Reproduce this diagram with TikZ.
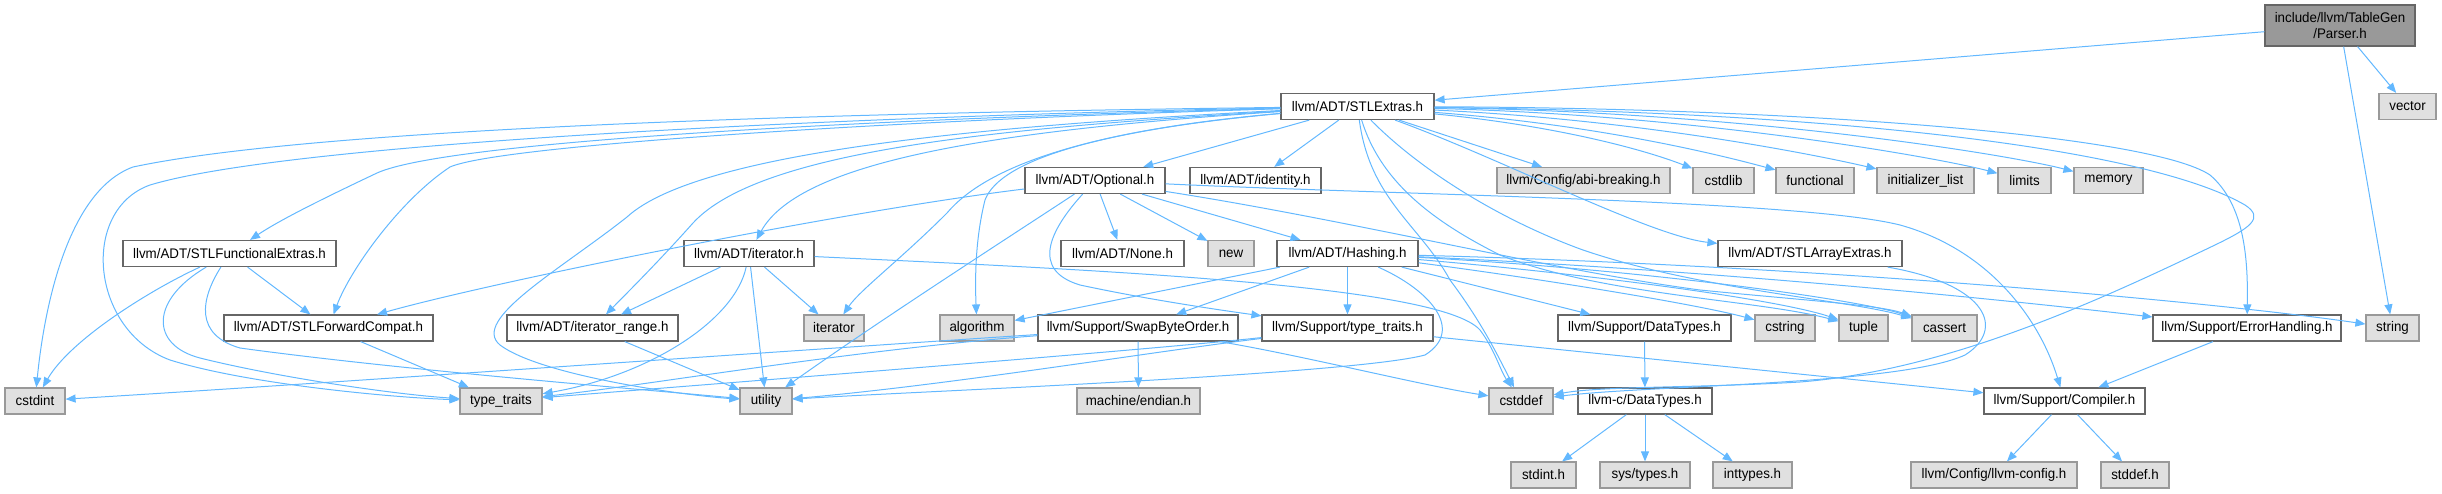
\documentclass[tikz,border=0pt]{standalone}
\usepackage{fontspec}
\setmainfont{Liberation Sans}[FakeStretch=0.96]
\usetikzlibrary{arrows.meta}
\definecolor{edgec}{HTML}{63B8FF}
\definecolor{cbd}{HTML}{666666}
\definecolor{cgbd}{HTML}{999999}
\definecolor{cgf}{HTML}{E0E0E0}
\newcommand\nfont{\fontsize{13.9}{16}\selectfont}
\tikzset{
 nd/.style={draw=cbd, fill=white, line width=1.2pt, minimum height=26pt, inner sep=0pt, font=\nfont, text=black},
 gr/.style={nd, draw=cgbd, fill=cgf},
 e/.style={draw=edgec, line width=1pt, -{Triangle[length=10pt,width=8pt]}},
}
\begin{document}
\begin{tikzpicture}[x=1pt,y=-1pt]
\useasboundingbox (0,0) rectangle (2442,493);
% row 0
\node[nd, fill=cgbd, draw=cbd, minimum width=150pt, minimum height=41pt, align=center] (parser) at (2340,25.5) {include/llvm/TableGen\\/Parser.h};
% row 1
\node[nd, minimum width=153pt] (stlextras) at (1357.5,106.5) {llvm/ADT/STLExtras.h};
\node[gr, minimum width=57pt] (vector) at (2407.5,106.5) {vector};
% row 2
\node[nd, minimum width=140pt] (optional) at (1095,180.5) {llvm/ADT/Optional.h};
\node[nd, minimum width=131pt] (identity) at (1255.5,180.5) {llvm/ADT/identity.h};
\node[gr, minimum width=173pt] (abi) at (1583.5,180.5) {llvm/Config/abi-breaking.h};
\node[gr, minimum width=61pt] (cstdlib) at (1723.5,180.5) {cstdlib};
\node[gr, minimum width=78pt] (functional) at (1815,180.5) {functional};
\node[gr, minimum width=97pt] (initlist) at (1925.5,180.5) {initializer\_list};
\node[gr, minimum width=53pt] (limits) at (2024.5,180.5) {limits};
\node[gr, minimum width=69pt] (memory) at (2108.5,180.5) {memory};
% row 3
\node[nd, minimum width=213pt] (stlfunc) at (229.5,253.5) {llvm/ADT/STLFunctionalExtras.h};
\node[nd, minimum width=130pt] (iterh) at (749,253.5) {llvm/ADT/iterator.h};
\node[nd, minimum width=123pt] (none) at (1122.5,253.5) {llvm/ADT/None.h};
\node[gr, minimum width=46pt] (newh) at (1231,253.5) {new};
\node[nd, minimum width=141pt] (hashing) at (1347.5,253.5) {llvm/ADT/Hashing.h};
\node[nd, minimum width=184pt] (stlarray) at (1810,253.5) {llvm/ADT/STLArrayExtras.h};
% row 4
\node[nd, minimum width=209pt] (stlfwd) at (328.5,328) {llvm/ADT/STLForwardCompat.h};
\node[nd, minimum width=171pt] (itrange) at (592.5,328) {llvm/ADT/iterator\_range.h};
\node[gr, minimum width=60pt] (iterator) at (834,328) {iterator};
\node[gr, minimum width=74pt] (algorithm) at (977,328) {algorithm};
\node[nd, minimum width=200pt] (swap) at (1138,328) {llvm/Support/SwapByteOrder.h};
\node[nd, minimum width=171pt] (suptt) at (1347.5,328) {llvm/Support/type\_traits.h};
\node[nd, minimum width=173pt] (dtypes) at (1644.5,328) {llvm/Support/DataTypes.h};
\node[gr, minimum width=60pt] (cstring) at (1785,328) {cstring};
\node[gr, minimum width=49pt] (tuple) at (1863.5,328) {tuple};
\node[gr, minimum width=65pt] (cassert) at (1944.5,328) {cassert};
\node[nd, minimum width=188pt] (errh) at (2247,328) {llvm/Support/ErrorHandling.h};
\node[gr, minimum width=53pt] (string) at (2392.5,328) {string};
% row 5
\node[gr, minimum width=60pt] (cstdint) at (35,401) {cstdint};
\node[gr, minimum width=82pt] (typetraits) at (501,401) {type\_traits};
\node[gr, minimum width=52pt] (utility) at (766,401) {utility};
\node[gr, minimum width=123pt] (endian) at (1138.5,401) {machine/endian.h};
\node[gr, minimum width=64pt] (cstddef) at (1521,401) {cstddef};
\node[nd, minimum width=134pt] (cdtypes) at (1645,401) {llvm-c/DataTypes.h};
\node[nd, minimum width=161pt] (compiler) at (2064.5,401) {llvm/Support/Compiler.h};
% row 6
\node[gr, minimum width=65pt] (stdint) at (1543.5,475) {stdint.h};
\node[gr, minimum width=90pt] (systypes) at (1645,475) {sys/types.h};
\node[gr, minimum width=79pt] (inttypes) at (1752.5,475) {inttypes.h};
\node[gr, minimum width=166pt] (llvmconfig) at (1994,475) {llvm/Config/llvm-config.h};
\node[gr, minimum width=68pt] (stddef) at (2135,475) {stddef.h};

% Parser.h
\draw[e] (parser) -- (stlextras);
\draw[e] (parser) -- (vector);
\draw[e] (parser) -- (string);
% STLExtras.h
\draw[e] (stlextras) -- (optional);
\draw[e] (stlextras) -- (identity);
\draw[e] (stlextras) -- (abi);
\draw[e] (stlextras) .. controls (1550,125) and (1640,148) .. (cstdlib);
\draw[e] (stlextras) .. controls (1600,125) and (1720,155) .. (functional);
\draw[e] (stlextras) .. controls (1650,120) and (1830,158) .. (initlist);
\draw[e] (stlextras) .. controls (1700,115) and (1940,158) .. (limits);
\draw[e] (stlextras) .. controls (1750,112) and (2010,155) .. (memory);
\draw[e] (stlextras) .. controls (1500,158) and (1650,236) .. (stlarray);
\draw[e] (stlextras) .. controls (1800,108) and (2150,135) .. (2210,175) .. controls (2245,205) and (2248,260) .. (errh);
\draw[e] (stlextras) .. controls (1850,112) and (2150,150) .. (2245,205) .. controls (2265,218) and (2250,228) .. (2215,245) .. controls (2100,300) and (1950,370) .. (1800,382) .. controls (1700,388) and (1600,386) .. (cstddef);
\draw[e] (stlextras) .. controls (1370,200) and (1420,225) .. (1450,280) .. controls (1480,320) and (1495,350) .. (cstddef);
\draw[e] (stlextras) .. controls (1380,180) and (1430,220) .. (1500,255) .. controls (1600,295) and (1760,300) .. (tuple);
\draw[e] (stlextras) .. controls (1420,170) and (1500,220) .. (1583,250) .. controls (1700,290) and (1850,300) .. (cassert);
\draw[e] (stlextras) .. controls (1100,130) and (1000,160) .. (985,200) .. controls (975,240) and (975,280) .. (algorithm);
\draw[e] (stlextras) .. controls (1150,125) and (1000,150) .. (947,213) .. controls (900,260) and (860,290) .. (iterator);
\draw[e] (stlextras) .. controls (1000,130) and (800,160) .. (iterh);
\draw[e] (stlextras) .. controls (1000,128) and (760,150) .. (693,223) .. controls (660,260) and (630,290) .. (itrange);
\draw[e] (stlextras) .. controls (1000,125) and (700,150) .. (627,217) .. controls (560,270) and (470,320) .. (500,345) .. controls (540,375) and (680,395) .. (utility);
\draw[e] (stlextras) .. controls (900,120) and (500,145) .. (450,167) .. controls (400,200) and (350,270) .. (stlfwd);
\draw[e] (stlextras) .. controls (900,118) and (450,140) .. (377,173) .. controls (320,200) and (280,220) .. (stlfunc);
\draw[e] (stlextras) .. controls (900,115) and (300,140) .. (150,185) .. controls (80,210) and (90,330) .. (170,360) .. controls (250,385) and (400,398) .. (typetraits);
\draw[e] (stlextras) .. controls (900,112) and (330,125) .. (133,167) .. controls (70,190) and (45,300) .. (cstdint);
% Optional.h
\draw[e] (optional) -- (none);
\draw[e] (optional) -- (newh);
\draw[e] (optional) -- (hashing);
\draw[e] (optional) .. controls (1350,220) and (1550,270) .. (1700,290) .. controls (1800,300) and (1880,305) .. (cassert);
\draw[e] (optional) .. controls (1400,195) and (1800,200) .. (1900,225) .. controls (1990,250) and (2040,320) .. (compiler);
\draw[e] (optional) .. controls (1050,230) and (1030,270) .. (1080,285) .. controls (1150,300) and (1220,310) .. (suptt);
\draw[e] (optional) .. controls (1020,230) and (880,320) .. (utility);
\draw[e] (optional) .. controls (850,210) and (500,280) .. (stlfwd);
% Hashing.h
\draw[e] (hashing) -- (algorithm);
\draw[e] (hashing) -- (swap);
\draw[e] (hashing) -- (suptt);
\draw[e] (hashing) -- (dtypes);
\draw[e] (hashing) .. controls (1430,290) and (1465,330) .. (1425,355) .. controls (1350,375) and (900,392) .. (utility);
\draw[e] (hashing) .. controls (1550,280) and (1700,305) .. (cstring);
\draw[e] (hashing) .. controls (1600,275) and (1780,300) .. (tuple);
\draw[e] (hashing) .. controls (1650,270) and (1860,300) .. (cassert);
\draw[e] (hashing) .. controls (1800,265) and (2200,300) .. (string);
\draw[e] (hashing) .. controls (1750,272) and (2050,305) .. (errh);
% SwapByteOrder.h
\draw[e] (swap) .. controls (1300,355) and (1420,385) .. (cstddef);
\draw[e] (swap) .. controls (800,350) and (300,385) .. (cstdint);
\draw[e] (swap) .. controls (850,350) and (650,385) .. (typetraits);
\draw[e] (swap) -- (endian);
% Support/type_traits.h
\draw[e] (suptt) -- (compiler);
\draw[e] (suptt) .. controls (1150,350) and (700,385) .. (typetraits);
\draw[e] (suptt) .. controls (1150,352) and (950,385) .. (utility);
% DataTypes
\draw[e] (dtypes) -- (cdtypes);
\draw[e] (cdtypes) -- (stdint);
\draw[e] (cdtypes) -- (systypes);
\draw[e] (cdtypes) -- (inttypes);
% ErrorHandling / Compiler
\draw[e] (errh) -- (compiler);
\draw[e] (compiler) -- (llvmconfig);
\draw[e] (compiler) -- (stddef);
% STLArrayExtras
\draw[e] (stlarray) .. controls (1990,285) and (2005,330) .. (1965,355) .. controls (1900,385) and (1650,385) .. (cstddef);
% STLForwardCompat
\draw[e] (stlfwd) -- (typetraits);
% STLFunctionalExtras
\draw[e] (stlfunc) .. controls (150,290) and (70,340) .. (cstdint);
\draw[e] (stlfunc) .. controls (150,300) and (150,345) .. (200,358) .. controls (280,378) and (400,395) .. (typetraits);
\draw[e] (stlfunc) .. controls (200,300) and (195,335) .. (240,348) .. controls (400,370) and (650,390) .. (utility);
\draw[e] (stlfunc) -- (stlfwd);
% iterator.h
\draw[e] (iterh) -- (itrange);
\draw[e] (iterh) .. controls (735,320) and (650,375) .. (typetraits);
\draw[e] (iterh) -- (utility);
\draw[e] (iterh) -- (iterator);
\draw[e] (iterh) .. controls (1100,270) and (1440,285) .. (1480,330) .. controls (1495,350) and (1500,370) .. (cstddef);
% iterator_range.h
\draw[e] (itrange) -- (utility);
\end{tikzpicture}
\end{document}
